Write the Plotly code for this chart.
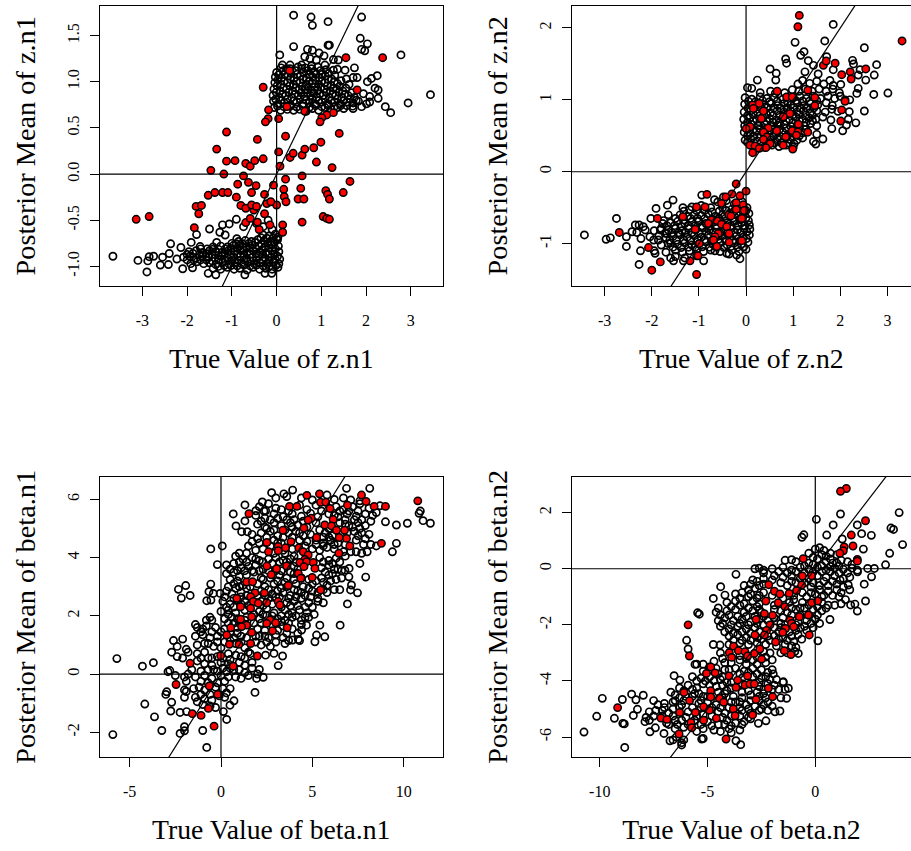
import plotly.graph_objects as go

# ---------- z.n1 ----------
z1_open = [(.38,1.72),(.77,1.70),(.80,1.61),(1.15,1.65),(1.90,1.70),(1.87,1.47),(2.03,1.41),(1.90,1.35),(1.97,1.335),(.38,1.38),(1.15,1.395),(1.18,1.395),(.07,1.29),(.69,1.35),(.80,1.34),(.95,1.31),(1.06,1.28),(.63,1.27),(.745,1.25),(.89,1.235),(1.27,1.24),(1.38,1.235),(2.78,1.29),(1.74,1.15),(1.53,1.125),(1.36,1.135),(1.80,1.045),(2.25,1.065),(2.12,1.035),(2.03,1.0),(2.27,.91),(3.44,.86),(2.94,.77),(2.43,.73),(2.55,.665),(2.27,.82),(2.08,.78),(2.01,.76),(1.90,.73),(1.71,.71),(1.56,1.03),(1.71,1.045),(2.2,.93),(1.94,.87),(2.08,.84),(.13,1.18),(.3,1.14),(.56,1.18),(.78,1.14),(1.08,1.18),(1.27,1.125),
(-.05,.72),(.09,.69),(.24,.70),(.38,.69),(.52,.70),(.66,.68),(.80,.71),(.94,.69),(1.08,.72),(1.22,.70),(1.36,.72),(1.5,.71),
(-.07,.79),(.03,.76),(.17,.77),(.31,.75),(.45,.78),(.59,.76),(.73,.77),(.87,.76),(1.01,.78),(1.15,.76),(1.29,.78),(1.43,.76),(1.57,.78),(1.71,.77),(1.83,.79),
(-.08,.85),(.06,.83),(.2,.85),(.34,.83),(.48,.85),(.62,.84),(.76,.85),(.9,.83),(1.04,.85),(1.18,.83),(1.32,.85),(1.46,.83),(1.6,.85),(1.74,.83),
(-.06,.92),(.08,.90),(.22,.92),(.36,.90),(.5,.91),(.64,.92),(.78,.90),(.92,.91),(1.06,.92),(1.2,.90),(1.34,.92),(1.48,.9),
(-.04,.99),(.1,.97),(.24,.99),(.38,.97),(.52,.99),(.66,.97),(.8,.98),(.94,.97),(1.08,.99),(1.22,.96),(1.36,.98),
(-.03,1.05),(.11,1.04),(.25,1.06),(.39,1.04),(.53,1.06),(.67,1.04),(.81,1.05),(.95,1.04),(1.09,1.06),(1.23,1.03),
(.0,1.1),(.15,1.12),(.42,1.12),(.56,1.14),(.7,1.12),(.84,1.11),(.98,1.12),(.22,1.14),
(-3.66,-.89),(-3.1,-.935),(-2.9,-1.06),(-2.85,-.895),(-2.88,-.94),(-2.75,-.89),(-2.6,-.985),(-2.55,-.9),(-2.42,-.98),(-2.4,-.86),(-2.37,-.755),(-2.23,-.92),(-2.1,-1.025),(-2.14,-.795),(-1.91,-.74),(-1.79,-.655),(-1.5,-.595),(-1.21,-.55),(-1.06,-.54),(-.9,-.49),(-1.27,-.63),(-1.15,-.66),(-.74,-.57),(-.89,-.70),(-1.34,-.74),(-1.71,-.785),(-1.53,-1.075),(-1.36,-1.09),(-.71,-1.09),(-.26,-1.075),(-.11,-1.075),(-1.88,-1.015),(-.45,-.535),(-.3,-.57),(-.19,-.5),
(-1.42,-1.02),(-1.25,-1.03),(-1.1,-1.01),(-.95,-1.03),(-.82,-1.02),(-.66,-1.04),(-.53,-1.01),(-.38,-1.03),(-.24,-1.02),(-.1,-1.03),(.03,-1.01),
(-1.92,-.97),(-1.78,-.95),(-1.63,-.97),(-1.5,-.96),(-1.36,-.98),(-1.2,-.95),(-1.07,-.97),(-.93,-.96),(-.79,-.97),(-.65,-.95),(-.5,-.97),(-.37,-.96),(-.22,-.97),(-.08,-.95),(.05,-.97),
(-2.08,-.9),(-1.94,-.89),(-1.8,-.91),(-1.65,-.89),(-1.52,-.9),(-1.38,-.91),(-1.23,-.89),(-1.1,-.91),(-.96,-.9),(-.81,-.89),(-.67,-.91),(-.54,-.9),(-.4,-.89),(-.26,-.91),(-.12,-.9),(.02,-.89),(.07,-.92),
(-1.96,-.84),(-1.8,-.83),(-1.66,-.85),(-1.5,-.83),(-1.37,-.84),(-1.22,-.85),(-1.08,-.83),(-.95,-.84),(-.8,-.83),(-.66,-.85),(-.52,-.83),(-.38,-.84),(-.24,-.85),(-.1,-.83),(.05,-.84),
(-1.42,-.79),(-1.25,-.78),(-1.1,-.79),(-.96,-.77),(-.83,-.78),(-.68,-.79),(-.54,-.77),(-.4,-.78),(-.26,-.79),(-.12,-.77),(.04,-.78),
(-.85,-.73),(-.7,-.72),(-.56,-.73),(-.42,-.71),(-.28,-.72),(-.14,-.73),(.02,-.71),(-.3,-.66),(-.17,-.67),(-.03,-.65),(.03,-.68),(-.1,-.6)]
z1_open_more = [(.02,.735),(.16,.73),(.31,.735),(.45,.725),(.59,.735),(.73,.72),(.87,.74),(1.01,.73),(1.15,.74),(1.29,.73),(1.43,.74),(1.57,.74),(1.7,.735),
(-.02,.81),(.1,.80),(.24,.81),(.38,.79),(.52,.815),(.66,.80),(.8,.81),(.94,.795),(1.08,.815),(1.22,.795),(1.36,.815),(1.5,.795),(1.64,.815),(1.78,.80),
(-.01,.885),(.13,.865),(.27,.885),(.41,.865),(.55,.88),(.69,.88),(.83,.875),(.97,.87),(1.11,.885),(1.25,.865),(1.39,.885),(1.53,.865),(1.67,.88),
(.01,.955),(.15,.935),(.29,.955),(.43,.935),(.57,.95),(.71,.945),(.85,.94),(.99,.94),(1.13,.955),(1.27,.93),(1.41,.95),(1.55,.93),(1.62,.97),
(.03,1.02),(.17,1.005),(.31,1.025),(.45,1.005),(.59,1.025),(.73,1.005),(.87,1.015),(1.01,1.005),(1.15,1.025),(1.29,1.0),(1.44,1.01),
(.05,1.075),(.18,1.08),(.32,1.09),(.46,1.08),(.6,1.1),(.74,1.08),(.88,1.08),(1.02,1.08),(1.16,1.09),(1.3,1.07),
(.1,1.15),(.3,1.18),(.48,1.16),(.64,1.15),(.78,1.17),(.92,1.16),(1.1,1.13),
(-1.3,-1.0),(-1.17,-.99),(-1.02,-.99),(-.88,-.995),(-.73,-.985),(-.59,-.995),(-.45,-.985),(-.3,-.995),(-.16,-.995),(-.02,-.99),
(-2.0,-.93),(-1.85,-.93),(-1.7,-.93),(-1.57,-.93),(-1.44,-.94),(-1.3,-.93),(-1.15,-.94),(-1.0,-.935),(-.87,-.935),(-.73,-.93),(-.58,-.94),(-.45,-.93),(-.31,-.935),(-.17,-.935),(-.03,-.925),
(-2.0,-.87),(-1.87,-.86),(-1.72,-.87),(-1.58,-.86),(-1.44,-.87),(-1.3,-.88),(-1.16,-.86),(-1.02,-.875),(-.88,-.865),(-.73,-.87),(-.59,-.87),(-.46,-.865),(-.31,-.87),(-.18,-.87),(-.05,-.865),
(-1.7,-.81),(-1.55,-.81),(-1.43,-.815),(-1.3,-.815),(-1.15,-.81),(-1.02,-.805),(-.88,-.805),(-.74,-.82),(-.6,-.80),(-.46,-.81),(-.32,-.82),(-.17,-.80),(-.03,-.81),
(-1.0,-.75),(-.9,-.755),(-.76,-.755),(-.62,-.75),(-.48,-.74),(-.34,-.755),(-.2,-.75),(-.05,-.74),
(-.35,-.69),(-.22,-.695),(-.08,-.69),(.0,-.7)]
z1_red = [(-3.14,-.49),(-2.85,-.46),(-1.84,-.58),(-1.80,-.35),(-1.68,-.34),(-1.74,-.43),(-1.53,-.23),(-1.47,.04),(-1.38,-.20),(-1.34,.27),(-1.21,-.20),(-1.18,0),(-1.12,.14),(-1.12,.455),(-1.09,-.20),(-.93,.145),(-.87,-.11),(-.90,-.25),(-.80,-.34),(-.74,-.02),(-.69,.115),(-.59,.085),(-.49,.145),(-.43,.375),(-.63,-.09),(-.46,-.125),(-.56,-.20),(-.30,.165),(-.30,.94),(-.27,-.22),(-.18,.695),(-.19,.60),(-.25,.565),(.045,.60),(.23,.73),(.29,1.12),(-.07,-.12),(.045,.24),(.075,.085),(.20,.41),(.20,-.055),(.16,-.165),(.17,-.245),(.21,-.30),(0,-.335),(-.22,-.32),(-.13,-.30),(-.27,-.43),(-.15,-.55),(.135,-.55),(.135,-.63),(-.39,-.60),(-.43,-.52),(-.69,-.525),(-.59,-.48),(-.51,-.39),(-.69,-.37),(-.56,-.335),(-.45,-.35),(.30,.18),(.37,.225),(.57,.205),(.63,.27),(.83,.285),(.99,.345),(.89,.13),(1.24,.07),(1.40,.44),(1.27,.665),(1.12,.64),(1.01,.61),(.97,.565),(.63,.68),(.57,-.02),(.54,-.155),(.48,-.27),(.61,-.27),(.57,-.52),(1.10,-.18),(1.14,-.22),(1.18,-.27),(1.04,-.46),(1.12,-.48),(1.18,-.49),(1.49,-.20),(1.64,-.08),(1.55,1.26),(1.80,.91),(2.37,1.26)]

# ---------- z.n2 ----------
z2_open = [(1.85,2.05),(1.04,1.80),(1.67,1.82),(2.51,1.725),(1.23,1.67),(1.16,1.62),(1.71,1.60),(1.32,1.545),(.84,1.57),(.86,1.51),(1.43,1.48),(2.26,1.55),(2.28,1.50),(2.77,1.49),(.51,1.43),(.64,1.37),(.63,1.275),(.24,1.275),(1.25,1.39),(1.53,1.36),(1.85,1.42),(2.42,1.42),(2.38,1.345),(2.72,1.345),(2.54,1.275),(2.01,1.215),(2.38,1.16),(2.35,1.09),(2.71,1.075),(3.01,1.095),(2.51,.845),(2.33,.68),(2.17,.73),(2.19,.835),(2.13,.65),(2.05,.57),(1.82,.60),(1.63,.455),(1.48,.385),(1.43,.42),(1.5,.52),(.03,1.17),(.12,1.16),
(.1,.37),(.24,.33),(.38,.34),(.55,.37),(.7,.35),(.85,.37),(1.0,.34),
(-.02,.44),(.1,.46),(.24,.43),(.38,.45),(.52,.44),(.66,.46),(.8,.43),(.94,.45),(1.08,.44),(1.2,.47),
(-.04,.55),(.09,.53),(.22,.56),(.36,.54),(.5,.56),(.64,.53),(.78,.55),(.92,.53),(1.06,.56),(1.2,.54),
(-.03,.64),(.11,.66),(.25,.64),(.39,.66),(.53,.63),(.67,.65),(.81,.66),(.95,.63),(1.09,.66),(1.23,.64),(1.37,.67),(1.5,.64),
(-.05,.73),(.08,.75),(.22,.73),(.36,.75),(.5,.74),(.64,.72),(.78,.75),(.92,.73),(1.06,.76),(1.2,.73),(1.34,.75),(1.48,.73),(1.63,.76),(1.8,.72),
(-.04,.83),(.1,.85),(.24,.83),(.38,.85),(.52,.82),(.66,.85),(.8,.83),(.94,.85),(1.08,.83),(1.22,.85),(1.36,.82),(1.5,.85),(1.68,.83),(1.82,.87),(1.95,.84),
(-.03,.94),(.11,.92),(.25,.95),(.39,.93),(.53,.95),(.67,.92),(.81,.95),(.95,.93),(1.09,.95),(1.23,.92),(1.37,.95),(1.52,.93),(1.7,.96),(1.83,.92),(2.1,1.0),
(-.02,1.03),(.12,1.01),(.3,1.04),(.44,1.02),(.6,1.03),(.78,1.01),(1.0,1.03),(1.14,1.05),(1.28,1.02),(1.42,1.05),(1.58,1.02),(1.74,1.05),(1.88,1.02),(2.0,1.05),(2.2,1.0),
(.3,1.1),(.52,1.12),(.62,1.09),(.82,1.1),(.98,1.14),(1.12,1.12),(1.26,1.15),(1.4,1.12),(1.55,1.15),(1.7,1.12),(1.84,1.15),(1.98,1.1),
(1.1,1.22),(1.2,1.27),(1.35,1.23),(1.5,1.26),(1.65,1.22),(1.78,1.27),(1.85,1.2),
(-3.43,-.88),(-2.97,-.94),(-2.88,-.92),(-2.75,-.65),(-2.54,-.905),(-2.54,-1.04),(-2.42,-.835),(-2.35,-.74),(-2.27,-.74),(-2.32,-.845),(-2.18,-.765),(-2.14,-.81),(-2.23,-.93),(-2.24,-1.1),(-2.27,-1.29),(-2.04,-.905),(-1.91,-.51),(-1.67,-.465),(-1.55,-.395),(-2.02,-.65),(-1.93,-1.135),(-1.96,-.95),(-1.82,-.81),(-1.77,-.72),(-1.65,-.60),(-1.86,-.95),(-1.68,-.86),(-1.65,-1.0),(-1.5,-1.18),(-1.54,-1.24),(-1.33,-1.24),(-.9,-1.24),(-.13,-1.21),(-.94,-.325),(-1.34,-.5),(-1.15,-.49),(-.48,-.35),(-.67,-.39),(-.41,-1.135),(-.66,-1.10),(-.36,-1.145),
(-.6,-.42),(-.42,-.4),(-.25,-.45),(-.08,-.42),(.02,-.5),(-.75,-.5),(-.95,-.47),(-1.2,-.53),(-.5,-.5),(-.3,-.52),(-.12,-.5),
(-1.4,-.6),(-1.25,-.62),(-1.1,-.6),(-.95,-.61),(-.8,-.59),(-.65,-.62),(-.5,-.6),(-.35,-.58),(-.2,-.6),(-.06,-.62),(.06,-.58),
(-1.75,-.68),(-1.6,-.71),(-1.45,-.69),(-1.3,-.72),(-1.15,-.7),(-1,-.69),(-.85,-.72),(-.7,-.7),(-.55,-.68),(-.4,-.71),(-.25,-.69),(-.1,-.71),(.05,-.68),
(-1.95,-.82),(-1.8,-.79),(-1.65,-.81),(-1.5,-.79),(-1.36,-.82),(-1.22,-.79),(-1.07,-.81),(-.92,-.78),(-.78,-.81),(-.63,-.79),(-.48,-.82),(-.33,-.79),(-.18,-.81),(-.04,-.79),(.08,-.8),
(-1.85,-.89),(-1.7,-.92),(-1.55,-.9),(-1.4,-.88),(-1.25,-.91),(-1.1,-.89),(-.95,-.91),(-.8,-.88),(-.65,-.91),(-.5,-.89),(-.35,-.92),(-.2,-.89),(-.06,-.91),(.07,-.88),
(-1.8,-1.02),(-1.6,-.99),(-1.45,-1.01),(-1.3,-.99),(-1.15,-1.02),(-1.0,-1.0),(-.85,-.98),(-.7,-1.01),(-.55,-.99),(-.4,-1.02),(-.25,-.99),(-.1,-1.01),(.04,-.98),
(-1.95,-1.1),(-1.7,-1.12),(-1.5,-1.09),(-1.35,-1.12),(-1.2,-1.1),(-1.05,-1.08),(-.9,-1.11),(-.75,-1.09),(-.55,-1.11),(-.3,-1.09),(-.15,-1.11),(0,-1.08),
(-1.6,-1.2),(-1.3,-1.2),(-1.05,-1.17),(-.2,-1.16)]
z2_open_more = [(.03,.41),(.17,.40),(.31,.39),(.45,.40),(.6,.40),(.75,.40),(.88,.40),(1.02,.39),
(.03,.5),(.16,.495),(.3,.495),(.44,.495),(.58,.50),(.72,.495),(.86,.49),(1.0,.495),(1.13,.50),
(.03,.595),(.16,.59),(.29,.60),(.43,.60),(.57,.595),(.71,.59),(.85,.605),(.99,.58),(1.13,.61),(1.27,.59),
(.03,.685),(.15,.705),(.29,.685),(.43,.705),(.57,.685),(.71,.685),(.85,.705),(.99,.68),(1.13,.71),(1.27,.685),(1.41,.71),
(.03,.78),(.15,.80),(.29,.78),(.43,.80),(.57,.78),(.71,.785),(.85,.79),(.99,.79),(1.13,.795),(1.27,.79),(1.41,.785),
(.04,.885),(.17,.885),(.31,.89),(.45,.89),(.59,.885),(.73,.885),(.87,.89),(1.01,.89),(1.15,.885),(1.29,.885),(1.44,.89),
(.05,.98),(.2,.975),(.35,.99),(.5,.975),(.66,.98),(.88,.97),(1.06,.99),(1.2,.985),(1.35,.985),(1.5,.99),
(-1.32,-.55),(-1.05,-.54),(-.88,-.54),(-.72,-.56),(-.57,-.55),(-.42,-.54),(-.27,-.56),(-.13,-.56),(0,-.54),
(-1.5,-.65),(-1.33,-.67),(-1.18,-.65),(-1.03,-.65),(-.88,-.655),(-.73,-.66),(-.58,-.65),(-.43,-.645),(-.28,-.645),(-.13,-.665),(0,-.64),
(-1.68,-.75),(-1.52,-.75),(-1.38,-.76),(-1.22,-.755),(-1.08,-.75),(-.93,-.755),(-.78,-.76),(-.63,-.745),(-.47,-.75),(-.32,-.75),(-.17,-.75),(-.03,-.75),(.07,-.74),
(-1.72,-.855),(-1.57,-.85),(-1.43,-.85),(-1.29,-.85),(-1.15,-.85),(-1.0,-.85),(-.85,-.83),(-.7,-.85),(-.55,-.855),(-.4,-.855),(-.25,-.85),(-.11,-.85),(.02,-.835),
(-1.62,-.955),(-1.48,-.955),(-1.33,-.95),(-1.18,-.955),(-1.03,-.95),(-.88,-.945),(-.73,-.96),(-.58,-.94),(-.43,-.955),(-.28,-.955),(-.13,-.96),(.01,-.93),
(-1.55,-1.05),(-1.38,-1.055),(-1.22,-1.05),(-1.08,-1.05),(-.93,-1.045),(-.78,-1.05),(-.62,-1.05),(-.47,-1.055),(-.32,-1.04),(-.18,-1.05),(-.05,-1.045)]
z2_red = [(1.13,2.175),(1.10,2.017),(3.31,1.82),(1.64,1.48),(1.70,1.54),(1.89,1.51),(2.03,1.35),(2.21,1.39),(2.23,1.29),(2.54,1.43),(2.10,.98),(2.03,.86),(2.01,.705),(.66,1.12),(.86,1.04),(.98,1.04),(1.31,1.135),(1.46,1.035),(1.46,.92),(.14,.93),(.28,.95),(.155,.88),(.37,.845),(.325,.74),(.085,.625),(0,.60),(.47,.61),(.37,.55),(.65,.57),(.93,.81),(.79,.765),(1.11,.66),(.98,.57),(1.10,.555),(1.07,.51),(1.31,.55),(.84,.485),(.79,.37),(.99,.315),(.44,.485),(.37,.45),(.51,.39),(.42,.335),(.085,.37),(.19,.36),(.14,.265),(.28,.325),
(-.21,-.17),(0,-.27),(-.13,-.335),(-.30,-.31),(-.43,-.35),(-.83,-.315),(-.52,-.44),(-.21,-.43),(-1.05,-.49),(-.87,-.49),(-.06,-.46),(-.21,-.525),(-.04,-.54),(-1.34,-.625),(-1.88,-.65),(-.37,-.60),(-.32,-.615),(-.09,-.65),(-.73,-.67),(-.62,-.68),(-.52,-.73),(-.8,-.72),(-.41,-.765),(-.36,-.86),(-1.08,-.80),(-.59,-.86),(-.66,-.905),(-.69,-.95),(-.36,-.98),(-.09,-.96),(-.99,-1.0),(-.62,-1.04),(-2.07,-1.055),(-1.02,-1.17),(-1.19,-1.24),(-1.82,-1.255),(-2.0,-1.37),(-1.05,-1.43),(-2.69,-.845)]

# ---------- beta.n1 ----------
b1_open = [(-5.92,-2.08),(-5.7,.53),(-4.3,.27),(-3.7,.39),(-4.17,-1.03),(-3.64,-1.47),(-3.24,-1.94),(-2.97,-.61),(-3.02,-.70),(-2.7,-.97),(-2.75,-1.27),(-2.24,-1.32),(-1.88,-1.29),(-2.24,-2.04),(-2.0,-1.81),(-2.0,-1.95),(-1.0,-1.94),(-.78,-2.52),(.31,-1.56),(.13,-1.29),(.49,-1.07),(.71,-.92),(1.86,-.63),(-2.33,2.91),(-1.93,3.04),(-1.69,2.70),(-2.17,2.61),(-.56,4.30),(.07,4.40),(-.2,3.76),(-.56,3.09),(-.66,2.83),(-.42,2.77),(-.78,2.52),(-.55,2.54),(-.05,2.77),(.67,5.5),(1.31,5.81),(.82,5.09),(1.31,5.26),(1.13,4.89),(1.44,4.89),(1.91,5.61),(2.44,5.61),(2.77,6.23),(3.44,6.19),(3.92,6.32),(2.26,5.91),(8.14,6.38),(6.87,6.38),(9,5.23),(9.6,5.12),(10.2,5.18),(10.91,5.6),(10.84,5.52),(11.06,5.27),(11.46,5.18),(9.6,4.49),(9.38,4.2),(7.92,3.33),(7.6,3.8),(7.01,3.63),(6.78,3.57),(7,3.34),(7.14,3.06),(7.09,2.89),(7.47,2.79),(6.92,2.41),(6.52,1.68),(5.68,1.28),(5.23,1.34),(5.14,1.11),(5.41,1.68),(4.68,1.68),(4.41,1.51),(4.23,1.19),(3.92,1.17),(3.5,1.05),(3.37,.62),(2.9,.71),(3.13,.29),(2.44,.65),(2.31,-.11),(1.95,-.15),(2.1,.16),
(3.0,6.05),(3.6,6.1),(4.4,6.05),(5.0,5.98),(5.8,6.15),(6.2,6.0),(6.7,6.05),(7.1,5.98),(7.6,5.95),
(2.1,5.75),(2.6,5.85),(3.0,5.7),(4.3,5.8),(4.7,5.65),(5.2,5.8),(6.3,5.75),(6.7,5.65),(7.2,5.75),(7.6,5.85),(8.1,5.7),(8.7,5.78),
(1.9,5.45),(2.4,5.35),(2.9,5.5),(3.4,5.4),(3.9,5.5),(4.4,5.42),(4.9,5.52),(5.3,5.4),(5.9,5.5),(6.4,5.4),(6.9,5.5),(7.4,5.42),(7.9,5.5),(8.5,5.55),
(2.0,5.15),(2.4,5.05),(2.9,5.2),(3.3,5.1),(3.8,5.2),(4.2,5.12),(4.7,5.05),(5.2,5.2),(6.5,5.2),(7.0,5.1),(7.5,5.2),(7.9,5.1),(8.2,5.25),
(1.7,4.8),(2.2,4.85),(2.7,4.9),(3.1,4.75),(3.7,4.85),(4.1,4.9),(4.9,4.8),(5.7,4.85),(6.1,4.75),(7.3,4.9),(7.7,4.85),(8.1,4.8),
(1.7,4.55),(2.1,4.5),(2.9,4.6),(3.3,4.5),(4.3,4.6),(4.7,4.55),(5.6,4.5),(6.0,4.6),(6.4,4.5),(7.4,4.6),(7.8,4.45),(8.2,4.45),(8.5,4.4),
(1.0,4.15),(1.4,4.15),(1.9,4.25),(2.3,4.3),(2.9,4.15),(3.5,4.15),(4.0,4.05),(5.0,4.3),(5.4,4.25),(5.8,4.35),(6.2,4.3),(6.7,4.2),(7.4,4.2),(7.7,4.15),(8.0,4.2),
(.8,4.05),(1.2,3.95),(1.7,4.0),(2.1,3.9),(2.6,3.95),(3.0,4.0),(3.4,3.9),(3.8,3.95),(5.4,4.0),(5.9,3.9),(6.3,3.98),(6.8,4.05),
(.3,3.75),(.7,3.8),(1.1,3.65),(1.5,3.7),(1.9,3.75),(2.3,3.6),(3.3,3.55),(4.0,3.7),(5.5,3.65),(5.9,3.75),(6.2,3.6),(6.6,3.55),
(.3,3.45),(.7,3.5),(1.0,3.35),(1.4,3.4),(1.8,3.5),(2.2,3.3),(3.2,3.4),(3.6,3.3),(4.0,3.45),(5.5,3.3),(5.9,3.4),(6.3,3.25),(6.6,3.3),
(.7,3.1),(1.0,3.0),(1.2,3.05),(2.0,3.1),(2.4,3.0),(2.9,3.1),(3.3,2.95),(4.1,3.1),(4.5,3.0),(5.0,3.1),(5.8,3.05),(6.2,2.9),(6.5,2.9),
(.3,2.85),(.6,2.75),(1.1,2.8),(1.4,2.7),(2.2,2.85),(2.8,2.75),(3.4,2.8),(3.8,2.7),(4.2,2.85),(4.6,2.7),(5.0,2.85),(5.8,2.8),
(.1,2.5),(.5,2.4),(.9,2.55),(1.3,2.5),(2.2,2.5),(2.6,2.6),(3.0,2.65),(3.6,2.45),(4.0,2.5),(4.4,2.6),(4.8,2.45),(5.3,2.5),(5.6,2.45),
(0,2.15),(.4,2.2),(.8,2.1),(1.3,2.2),(2.1,2.15),(2.5,2.25),(2.9,2.1),(3.5,2.2),(3.9,2.1),(4.3,2.2),(4.7,2.1),(5.1,2.05),
(-.6,1.95),(-.5,1.85),(.2,1.9),(.6,1.95),(1.4,1.95),(2.1,1.9),(2.5,2.0),(3.1,1.9),(3.5,1.85),(3.9,1.95),(4.4,1.85),(4.8,1.95),
(-1.4,1.7),(-1.3,1.6),(-1.0,1.55),(-.8,1.65),(-.3,1.6),(.2,1.55),(.9,1.6),(2.0,1.55),(2.4,1.5),(3.1,1.5),(3.4,1.65),(3.9,1.55),(4.2,1.4),
(-1.4,1.3),(-1.0,1.35),(-.6,1.25),(-.2,1.3),(.7,1.25),(1.1,1.3),(2.1,1.3),(2.6,1.25),(3.4,1.25),(3.7,1.15),(4.3,1.15),
(-2.6,1.15),(-2.1,1.2),(-2.4,.95),(-1.9,.85),(-1.3,1.0),(-.9,1.05),(-.4,.95),(0,.9),(1.3,.9),(1.5,.75),(2.2,1.0),(2.7,.95),(3.0,1.1),
(-2.7,.75),(-2.4,.6),(-2.1,.55),(-1.8,.75),(-1.3,.7),(-.9,.75),(-.5,.55),(.4,.7),(.8,.65),(1.3,.55),(1.6,.7),
(-1.3,.45),(-.9,.35),(-.5,.3),(0,.4),(.4,.35),(1.0,.4),(1.3,.3),(1.7,.2),
(-2.9,.08),(-2.8,.12),(-1.6,.15),(-.7,.15),(-.2,.1),(.3,.08),(.7,.15),(1.3,.05),(1.5,-.05),(2.0,0),
(-2.5,-.05),(-2,-.1),(-1.9,-.25),(-1.4,-.1),(-.9,-.05),(-.5,-.15),(0,-.05),(.4,-.1),(.8,-.1),(1.1,-.15),
(-2,-.55),(-1.9,-.6),(-1.2,-.45),(-.9,-.55),(-.3,-.45),(.1,-.5),(.5,-.5),
(-2,-.8),(-1.4,-.8),(-1.3,-.95),(-.9,-.85),(-.5,-.9),(.2,-.8),(-1.0,-1.05),(-.6,-1.1),(-.3,-1.15)]
b1_open_more = [(2.35,5.6),(3.3,5.65),(3.7,5.6),(5.5,5.6),(6.5,5.6),(7.0,5.6),(7.5,5.6),(8.3,5.45),
(2.2,5.25),(2.7,5.3),(3.1,5.35),(3.6,5.3),(4.0,5.3),(4.5,5.25),(6.2,5.45),(6.8,5.3),(7.3,5.3),(7.7,5.3),
(2.5,5.0),(2.9,4.95),(3.5,4.95),(3.9,5.05),(4.3,4.85),(5.4,4.95),(5.9,5.0),(6.8,5.15),(7.2,5.05),(7.6,5.0),
(2.0,4.65),(2.5,4.7),(3.4,4.7),(3.9,4.7),(4.5,4.75),(5.2,4.6),(5.6,4.7),(5.9,4.7),(6.9,4.85),(7.5,4.75),(7.9,4.65),
(1.5,4.4),(2.7,4.4),(3.1,4.5),(3.4,4.25),(3.9,4.3),(4.6,4.4),(5.2,4.45),(5.6,4.4),(6.2,4.45),(6.8,4.45),(7.1,4.2),
(1.0,3.85),(1.4,3.85),(1.9,3.95),(2.3,3.85),(2.8,3.8),(3.2,3.85),(3.6,3.85),(4.1,3.85),(5.6,3.85),(6.1,3.8),(6.5,3.85),
(.5,3.6),(.9,3.55),(1.3,3.55),(1.7,3.55),(2.1,3.55),(2.6,3.55),(3.0,3.55),(3.8,3.5),(4.2,3.6),(5.7,3.5),(6.1,3.45),(6.4,3.6),
(.5,3.25),(.9,3.2),(1.4,2.95),(2.3,3.25),(2.7,3.3),(3.1,3.2),(3.5,3.15),(4.0,3.25),(4.4,3.3),(4.8,3.25),(5.2,3.2),(5.6,3.15),(6.0,3.2),
(.4,3.0),(.8,2.95),(1.6,3.0),(2.6,2.9),(3.1,2.85),(3.6,3.0),(4.0,2.9),(4.4,2.8),(4.8,2.95),(5.3,2.8),(5.6,2.9),
(.2,2.65),(.7,2.6),(1.1,2.65),(2.0,2.7),(2.4,2.7),(3.2,2.65),(3.7,2.6),(4.1,2.65),(4.9,2.65),(5.3,2.6),
(.3,2.3),(.7,2.3),(1.1,2.4),(1.5,2.35),(2.3,2.35),(2.8,2.4),(3.3,2.3),(3.8,2.35),(4.2,2.35),(4.6,2.3),(5.0,2.3),
(.4,2.05),(.9,1.9),(1.3,1.85),(1.8,2.05),(2.3,2.05),(2.8,2.0),(3.3,2.0),(3.7,2.05),(4.1,2.0),(4.6,1.95),
(-.8,1.85),(.4,1.75),(.7,1.75),(1.0,1.75),(1.8,1.75),(2.2,1.75),(2.8,1.7),(3.3,1.8),(3.7,1.75),(4.4,1.7),
(-1.1,1.45),(-.5,1.45),(0,1.45),(.5,1.4),(.9,1.4),(1.4,1.25),(1.9,1.3),(2.4,1.3),(3.0,1.35),(3.6,1.4),
(-.7,1.05),(-.2,1.1),(.2,1.1),(.5,1.15),(.8,1.05),(1.1,1.1),(1.9,1.1),(2.5,1.1),
(-1.1,.55),(-.7,.55),(-.2,.6),(.1,.55),(.5,.5),(1.1,.6),(1.7,.4),
(-1.1,.1),(-.4,.15),(.1,.2),(.5,.2),(1,.15),(-1.8,0),(-1.1,-.25),(-.7,-.3),(-.2,-.3),(.2,-.25),
(-1.5,-.5),(-1.1,-.7),(-.6,-.7),(-.1,-.75),(.3,-.65)]
b1_red = [(10.77,5.95),(1.53,5.51),(4.70,6.14),(5.39,6.19),(3.75,5.76),(4.15,5.76),(5.45,5.9),(5.74,5.9),(5.97,5.69),(7.69,6.15),(7.94,5.93),(6.92,5.8),(8.38,5.76),(9.0,5.76),(6.14,5.31),(5.68,5.12),(6.05,5.09),(6.32,4.94),(6.76,4.94),(4.54,5.02),(4.94,5.35),(4.77,5.29),(3.39,4.94),(5.23,4.69),(6.47,4.69),(6.87,4.66),(7.05,4.4),(8.78,4.49),(6.45,4.15),(2.51,4.52),(2.6,4.2),(3.13,4.38),(3.13,4.24),(3.83,4.55),(3.53,4.34),(4.26,4.33),(4.5,4.2),(4.77,4.09),(4.59,3.94),(4.32,3.83),(4.68,3.86),(4.54,3.69),(5.05,3.83),(5.14,3.63),(4.23,3.46),(4.37,3.29),(4.99,3.32),(5.45,2.89),(2.51,3.71),(3.04,3.62),(3.59,3.71),(2.75,3.41),(3.68,3.04),(1.4,3.16),(1.73,3.17),(.86,2.6),(1.86,2.79),(2.37,2.79),(1.62,2.66),(1.07,2.31),(1.77,2.49),(2.04,2.43),(2.5,2.45),(1.62,2.26),(3.13,2.49),(3.22,2.37),(1.68,1.97),(1.07,1.88),(2.68,1.86),(2.5,1.74),(2.99,1.76),(1.4,1.68),(1.13,1.63),(.53,1.59),(3.62,1.59),(2.82,1.49),(1.68,1.43),(.31,1.34),(.46,1.02),(.98,1.02),(1.62,1.05),(-.02,.63),(1.99,.62),(-1.69,.37),(.67,.27),(-2.46,-.36),(-.64,-.41),(-.18,-.70),(-.69,-1.18),(-1.57,-1.36),(-1.09,-1.42),(-.38,-1.79)]

# ---------- beta.n2 ----------
b2_open = [(3.89,2.0),(3.51,1.45),(3.63,1.4),(4.05,.86),(3.45,.55),(3.26,.14),(1.17,1.95),(.83,1.56),(.05,1.76),(1.95,1.56),(2.15,1.25),(2.6,1.19),(-.53,1.21),(-.62,1.12),(.53,1.2),(1.25,1.06),(2.23,.7),(2.74,.01),(2.43,.01),(2.61,-.29),(2.27,-.55),(2.33,-1.15),(1.95,-1.51),(1.64,-1.29),(1.84,-1.26),(1.96,-.11),(1.53,-.58),(.68,-1.81),(.12,-2.57),(-.63,-2.51),(-.79,-3.02),(-3.68,-.2),(-4.39,-.64),(-4.73,-1.06),(-4.19,-.94),(-5.46,-1.57),(-5.38,-1.62),(-5.97,-2.55),(-5.9,-2.86),(-5.58,-3.41),(-6.55,-3.81),(-6.28,-3.97),(-9.88,-4.62),(-10.14,-5.26),(-10.73,-5.82),(-8.84,-6.37),(-8.95,-4.66),(-8.52,-4.47),(-8.32,-4.67),(-7.98,-4.51),(-8.25,-5.01),(-8.44,-5.23),(-9.32,-5.33),(-8.93,-5.51),(-8.86,-5.53),(-7.9,-5.45),(-7.67,-5.81),(-7.02,-5.87),(-7.42,-5.67),(-6.74,-6.13),(-6.2,-6.28),(-5.27,-6.07),(-3.68,-6.13),(-3.46,-6.27),(-2.64,-5.51),(-2.29,-5.42),(-1.87,-5.1),(-1.64,-5.07),(-1.33,-4.62),(-1.25,-4.26),(-1.48,-4.03),(-4.73,-2.7),(-4.42,-2.72),
(-.3,.55),(0,.7),(.2,.75),(.4,.65),(.7,.55),(.5,.45),(1.0,.5),
(-1.4,.3),(-1.1,.32),(-.9,.25),(-.3,.2),(.1,.35),(.5,.25),(.8,.2),(1.2,.3),(1.5,.25),(1.7,.15),
(-2.8,0),(-2.6,.02),(-2.4,-.05),(-2.0,0),(-1.5,.05),(-1.1,-.05),(-.7,.05),(-.3,-.02),(.1,.05),(.5,-.05),(.9,.02),(1.3,-.02),(1.7,.02),(1.95,-.05),
(-2.9,-.4),(-2.7,-.45),(-2.4,-.35),(-1.9,-.25),(-1.5,-.3),(-1.1,-.25),(-.7,-.35),(-.3,-.35),(.1,-.25),(.5,-.3),(.9,-.25),(1.3,-.35),(1.6,-.3),
(-3.3,-.6),(-3.0,-.55),(-2.6,-.6),(-1.3,-.6),(-.9,-.5),(-.2,-.65),(.2,-.6),(.6,-.6),(1.0,-.55),(1.3,-.65),(1.6,-.75),
(-3.7,-.9),(-3.4,-.85),(-3.0,-.9),(-2.6,-.95),(-2.4,-.85),(-1.0,-.95),(-.4,-1.0),(0,-.9),(.4,-.95),(.8,-.95),(1.1,-1.0),(1.4,-1.1),
(-4.1,-1.2),(-3.7,-1.15),(-3.3,-1.25),(-2.9,-1.15),(-2.6,-1.25),(-1.2,-1.2),(-.6,-1.2),(.3,-1.2),(.6,-1.3),(.9,-1.3),(1.2,-1.25),
(-4.6,-1.55),(-4.5,-1.4),(-4.1,-1.5),(-3.7,-1.45),(-3.3,-1.55),(-2.9,-1.5),(-2.6,-1.45),(-1.9,-1.3),(-1.3,-1.55),(-.9,-1.45),(-.5,-1.4),(-.1,-1.45),(.3,-1.5),
(-4.5,-1.85),(-4.2,-1.75),(-3.8,-1.85),(-3.4,-1.8),(-3,-1.9),(-2.6,-1.8),(-2.2,-1.85),(-1.6,-1.95),(-.8,-1.9),(-.4,-1.85),(0,-1.8),(.2,-1.95),
(-4.4,-2.05),(-4,-2.15),(-3.6,-2.05),(-3.2,-2.15),(-2.8,-2.1),(-2.4,-2.0),(-1.6,-2.1),(-.7,-2.1),(-.4,-2.2),(-.1,-2.1),
(-4,-2.4),(-3.6,-2.35),(-3.2,-2.45),(-2.5,-2.5),(-1.9,-2.4),(-1.5,-2.45),(-1.1,-2.4),(-.8,-2.35),
(-4,-2.7),(-3.5,-2.65),(-3.1,-2.7),(-2.7,-2.65),(-2.3,-2.7),(-1.8,-2.75),(-1.4,-2.7),(-1.1,-2.75),(-.9,-2.8),
(-4.4,-3.0),(-3.5,-3.1),(-2.9,-3.25),(-2.4,-2.95),(-2.1,-3.0),(-1.6,-3.0),(-1.3,-3.0),(-.95,-2.95),
(-4.7,-3.3),(-4.3,-3.2),(-3.9,-3.35),(-3.5,-3.25),(-3.2,-3.4),(-2.7,-3.4),(-2.3,-3.35),(-5.2,-3.4),(-5.5,-3.4),
(-5.2,-3.65),(-4.6,-3.55),(-4.2,-3.6),(-3.7,-3.55),(-3.3,-3.65),(-2.9,-3.55),(-2.5,-3.6),(-2.2,-3.7),(-1.95,-3.75),
(-5.7,-3.85),(-5.3,-3.9),(-4.9,-3.85),(-4.4,-3.95),(-4.1,-4.05),(-3.4,-3.9),(-2.9,-3.85),(-2.5,-3.9),(-2.1,-3.95),(-1.8,-3.95),(-1.5,-4.05),
(-6.3,-4.25),(-5.9,-4.15),(-5.5,-4.25),(-5.2,-4.1),(-4.6,-4.2),(-4.3,-4.15),(-3.9,-4.25),(-3.4,-4.4),(-2.6,-4.2),(-2.4,-4.3),(-1.7,-4.3),(-1.4,-4.3),
(-6.7,-4.4),(-6.5,-4.5),(-6.3,-4.6),(-6.0,-4.55),(-5.6,-4.45),(-5.2,-4.55),(-4.2,-4.45),(-3.8,-4.55),(-3.4,-4.6),(-3,-4.5),(-2.6,-4.55),(-2.3,-4.6),(-1.6,-4.6),
(-7.5,-4.7),(-7.3,-4.85),(-7.0,-4.8),(-6.6,-4.75),(-6.2,-4.85),(-5.4,-4.8),(-5,-4.75),(-4.6,-4.85),(-3.7,-4.75),(-3.2,-4.85),(-2.8,-4.9),(-2.4,-4.85),(-2.0,-4.9),
(-7.7,-5.1),(-7.4,-5.05),(-7.1,-5.05),(-6.8,-5.15),(-5.9,-5.1),(-5.2,-5.2),(-4.5,-5.1),(-4.2,-5.15),(-3.4,-5.05),(-3.0,-5.15),(-2.5,-5.0),(-2.2,-5.05),
(-7.85,-5.3),(-7.7,-5.4),(-6.5,-5.4),(-6.2,-5.4),(-5.6,-5.4),(-5.0,-5.45),(-4.5,-5.55),(-4.1,-5.4),(-3.7,-5.5),(-3.3,-5.45),(-3,-5.35),
(-6.5,-5.7),(-6.1,-5.65),(-5.5,-5.8),(-5.2,-5.7),(-4.7,-5.75),(-4.4,-5.8),(-4,-5.7),(-3.5,-5.75),(-6.8,-5.55),(-3.9,-5.85),
(-6.6,-6.1),(-6.45,-6.0),(-6.2,-6.2),(-6.1,-6.1),(-5.2,-6.05)]
b2_open_more = [(-.1,.4),(.3,.5),(.7,.35),(1.0,.2),(-.5,.1),(-.1,.15),(.3,.1),(.7,.08),(1.1,.1),
(-2.4,-.15),(-1.7,-.1),(-1.3,-.15),(-.9,-.1),(-.5,-.15),(-.1,-.12),(.3,-.1),(.7,-.1),(1.1,-.15),(1.5,-.15),
(-3.1,-.75),(-2.8,-.7),(-2.4,-.55),(-2.0,-.4),(-1.6,-.5),(-1.1,-.45),(-.5,-.5),(-.1,-.5),(.4,-.45),(.8,-.45),(1.15,-.4),
(-3.5,-1.05),(-3.1,-1.0),(-2.7,-1.05),(-2.0,-.95),(-1.5,-1.05),(-1.0,-1.1),(-.6,-.85),(-.2,-.85),(.2,-.75),(.6,-.8),(1.0,-.75),(1.2,-.85),
(-3.9,-1.35),(-3.5,-1.3),(-3.1,-1.4),(-2.7,-1.35),(-2.5,-1.55),(-1.9,-1.45),(-1.6,-1.5),(-1.1,-1.4),(-.7,-1.4),(-.3,-1.3),(.1,-1.35),(.5,-1.4),(.3,-1.0),
(-4.4,-1.65),(-4.0,-1.65),(-3.6,-1.7),(-3.2,-1.7),(-2.8,-1.7),(-2.4,-1.7),(-1.9,-1.75),(-1.5,-1.75),(-1.1,-1.65),(-.7,-1.65),(-.3,-1.65),(.1,-1.65),
(-4.3,-1.95),(-3.9,-2.0),(-3.5,-1.95),(-3.1,-2.0),(-2.7,-1.95),(-1.9,-2.1),(-1.4,-2.0),(-.9,-2.0),(-.5,-2.05),(-.2,-1.95),
(-4.2,-2.25),(-3.8,-2.3),(-3.4,-2.25),(-3,-2.3),(-2.6,-2.25),(-2.2,-2.4),(-1.7,-2.25),(-1.2,-2.25),(-.9,-2.2),
(-3.8,-2.55),(-3.4,-2.55),(-3,-2.55),(-2.7,-2.45),(-2.1,-2.55),(-1.7,-2.5),(-1.3,-2.55),(-1,-2.6),
(-3.2,-3.2),(-2.7,-3.15),(-2.3,-3.15),(-2,-3.25),(-4.2,-3.35),(-4.9,-3.5),
(-4.5,-3.75),(-4.0,-3.6),(-3.5,-3.75),(-3.1,-3.7),(-2.7,-3.75),(-2.3,-3.85),(-2.0,-3.6),
(-5.5,-4.0),(-5.1,-4.0),(-4.7,-4.0),(-4.3,-3.85),(-3.9,-4.05),(-3.4,-4.1),(-2.6,-4.05),(-2.2,-4.1),(-1.9,-4.15),
(-6.1,-4.35),(-5.7,-4.3),(-5.4,-4.45),(-4.9,-4.15),(-4.5,-4.4),(-4.1,-4.35),(-3.1,-4.35),(-2.7,-4.4),(-2.4,-4.45),(-2.0,-4.3),
(-6.5,-4.7),(-6.1,-4.7),(-5.7,-4.55),(-5.3,-4.7),(-5,-4.55),(-4.3,-4.6),(-3.9,-4.75),(-3.5,-4.75),(-3,-4.7),(-2.6,-4.7),(-2.2,-4.75),
(-7,-4.95),(-6.6,-5.0),(-6.3,-4.95),(-5.7,-4.95),(-5.3,-4.95),(-4.8,-4.95),(-4.4,-4.95),(-4,-4.95),(-3.5,-4.95),(-3.1,-5.0),(-2.6,-5.05),
(-7.5,-5.25),(-7.1,-5.25),(-6.6,-5.25),(-6,-5.3),(-5.5,-5.25),(-4.8,-5.25),(-4.3,-5.3),(-3.9,-5.25),(-3.5,-5.25),(-3.1,-5.3),
(-6.9,-5.5),(-6.4,-5.55),(-5.9,-5.55),(-5.3,-5.55),(-4.8,-5.6),(-4.2,-5.55),(-3.9,-5.6),(-3.4,-5.55)]
b2_red = [(1.44,2.86),(1.17,2.76),(2.33,1.71),(1.67,1.2),(1.34,.78),(1.75,.81),(1.3,.64),(1.14,.55),(1.95,.33),(1.95,.27),(-.56,.36),(-.17,-.25),(-.6,-.26),(-.63,-.58),(-.87,-.78),(-1.21,-.88),(-2.16,-.57),(-1.9,-.8),(-1.64,-.9),(-.17,-1.21),(.11,-1.15),(-2.29,-1.15),(-1.72,-1.21),(-1.41,-1.35),(-2.36,-1.6),(-1.98,-1.66),(-2.75,-1.81),(-.74,-1.71),(-.32,-1.65),(-1.17,-1.83),(-1.1,-1.95),(-1.0,-2.07),(-1.38,-2.13),(-1.51,-2.27),(-.28,-2.36),(-2.8,-2.36),(-2.1,-2.0),(-2.26,-2.2),(-2.36,-2.36),(-1.84,-2.61),(-3.79,-2.76),(-3.57,-2.92),(-3.26,-2.96),(-2.83,-3.02),(-2.57,-2.86),(-1.44,-2.92),(-1.13,-3.06),(-3.99,-2.99),(-3.88,-3.16),(-3.14,-3.11),(-2.49,-3.22),(-5.9,-2.0),(-5.84,-3.11),(-4.85,-3.5),(-5.05,-3.73),(-4.65,-3.71),(-4,-3.82),(-3.6,-3.97),(-3.14,-3.82),(-3.68,-4.23),(-3.26,-4.14),(-3.03,-4.11),(-2.83,-4.11),(-2.18,-4.26),(-1.98,-4.56),(-2.75,-4.66),(-6.09,-4.41),(-5.83,-4.7),(-4.85,-4.35),(-4.85,-4.57),(-4.45,-4.61),(-4.25,-4.76),(-5.18,-4.92),(-4.91,-5.04),(-3.8,-5.0),(-3.72,-5.24),(-2.91,-5.21),(-6.29,-5.12),(-5.56,-5.12),(-9.17,-4.95),(-7.16,-5.32),(-6.88,-5.37),(-5.18,-5.4),(-4.59,-5.33),(-5.77,-5.48),(-5.73,-5.67),(-6.32,-5.89),(-4.14,-6.07)]

titles_x = ["True Value of z.n1", "True Value of z.n2", "True Value of beta.n1", "True Value of beta.n2"]
titles_y = ["Posterior Mean of z.n1", "Posterior Mean of z.n2", "Posterior Mean of beta.n1", "Posterior Mean of beta.n2"]
xticks = [[-3,-2,-1,0,1,2,3], [-3,-2,-1,0,1,2,3], [-5,0,5,10], [-10,-5,0]]
yticks = [[-1,-.5,0,.5,1,1.5], [-1,0,1,2], [-2,0,2,4,6], [-6,-4,-2,0,2]]
ylabels = [["-1.0","-0.5","0.0","0.5","1.0","1.5"], ["-1","0","1","2"], ["-2","0","2","4","6"], ["-6","-4","-2","0","2"]]
xranges = [(-3.96,3.72), (-3.70,3.50), (-6.65,12.15), (-11.3,4.44)]
yranges = [(-1.212,1.825), (-1.59,2.313), (-2.85,6.78), (-6.71,3.28)]
opens = [z1_open + z1_open_more, z2_open + z2_open_more, b1_open + b1_open_more, b2_open + b2_open_more]
reds = [z1_red, z2_red, b1_red, b2_red]

W, H = 911, 851
boxes = [(99.5,443,5.5,286), (571.7,911,5.5,286), (99.5,443,476.7,757), (571.7,911,476.7,757)]
FONT = "Liberation Serif"
fig = go.Figure()
shapes = []
for i in range(4):
    sfx = "" if i == 0 else str(i + 1)
    xa, ya = "x" + sfx, "y" + sfx
    ox, oy = zip(*opens[i])
    rx, ry = zip(*reds[i])
    fig.add_trace(go.Scatter(x=ox, y=oy, xaxis=xa, yaxis=ya, mode="markers", showlegend=False,
                             marker=dict(symbol="circle-open", size=7.2, color="black", line=dict(width=1.7, color="black"))))
    fig.add_trace(go.Scatter(x=rx, y=ry, xaxis=xa, yaxis=ya, mode="markers", showlegend=False,
                             marker=dict(symbol="circle", size=7.4, color="#ff0000", line=dict(width=1.5, color="black"))))
    x0, x1, y0, y1 = boxes[i]
    clipped = i in (1, 3)
    fig.update_layout({
        "xaxis" + sfx: dict(domain=[x0 / W, x1 / W], range=xranges[i], anchor=ya, showgrid=False, zeroline=False,
                            showline=True, linecolor="black", linewidth=1, mirror=True, ticks="outside", ticklen=9,
                            tickwidth=1, tickcolor="black", tickvals=xticks[i], ticktext=[str(v) for v in xticks[i]],
                            ticklabelstandoff=11, tickfont=dict(family=FONT, size=16, color="black"),
                            title=dict(text=titles_x[i], standoff=20, font=dict(family=FONT, size=27.7, color="black"))),
        "yaxis" + sfx: dict(domain=[1 - y1 / H, 1 - y0 / H], range=yranges[i], anchor=xa, showgrid=False, zeroline=False,
                            showline=True, linecolor="black", linewidth=1, mirror=(not clipped), ticks="outside", ticklen=9,
                            tickwidth=1, tickcolor="black", tickvals=yticks[i], ticktext=ylabels[i], tickangle=-90,
                            ticklabelstandoff=4, tickfont=dict(family=FONT, size=16, color="black"),
                            title=dict(text=titles_y[i], standoff=21, font=dict(family=FONT, size=28.3, color="black"))),
    })
    lo = min(xranges[i][0], yranges[i][0])
    hi = max(xranges[i][1], yranges[i][1])
    line = dict(color="black", width=1.2)
    shapes.append(dict(type="line", xref=xa, yref=ya, x0=lo, y0=lo, x1=hi, y1=hi, line=line))
    shapes.append(dict(type="line", xref=xa, yref=ya, x0=xranges[i][0], y0=0, x1=xranges[i][1], y1=0, line=line))
    shapes.append(dict(type="line", xref=xa, yref=ya, x0=0, y0=yranges[i][0], x1=0, y1=yranges[i][1], line=line))

fig.update_layout(width=W, height=H, margin=dict(l=0, r=0, t=0, b=0), paper_bgcolor="white", plot_bgcolor="white",
                  shapes=shapes, showlegend=False)
fig.write_html("out.html", config={"displayModeBar": False},
               post_script="document.body.style.margin='0';document.body.style.overflow='hidden';")
